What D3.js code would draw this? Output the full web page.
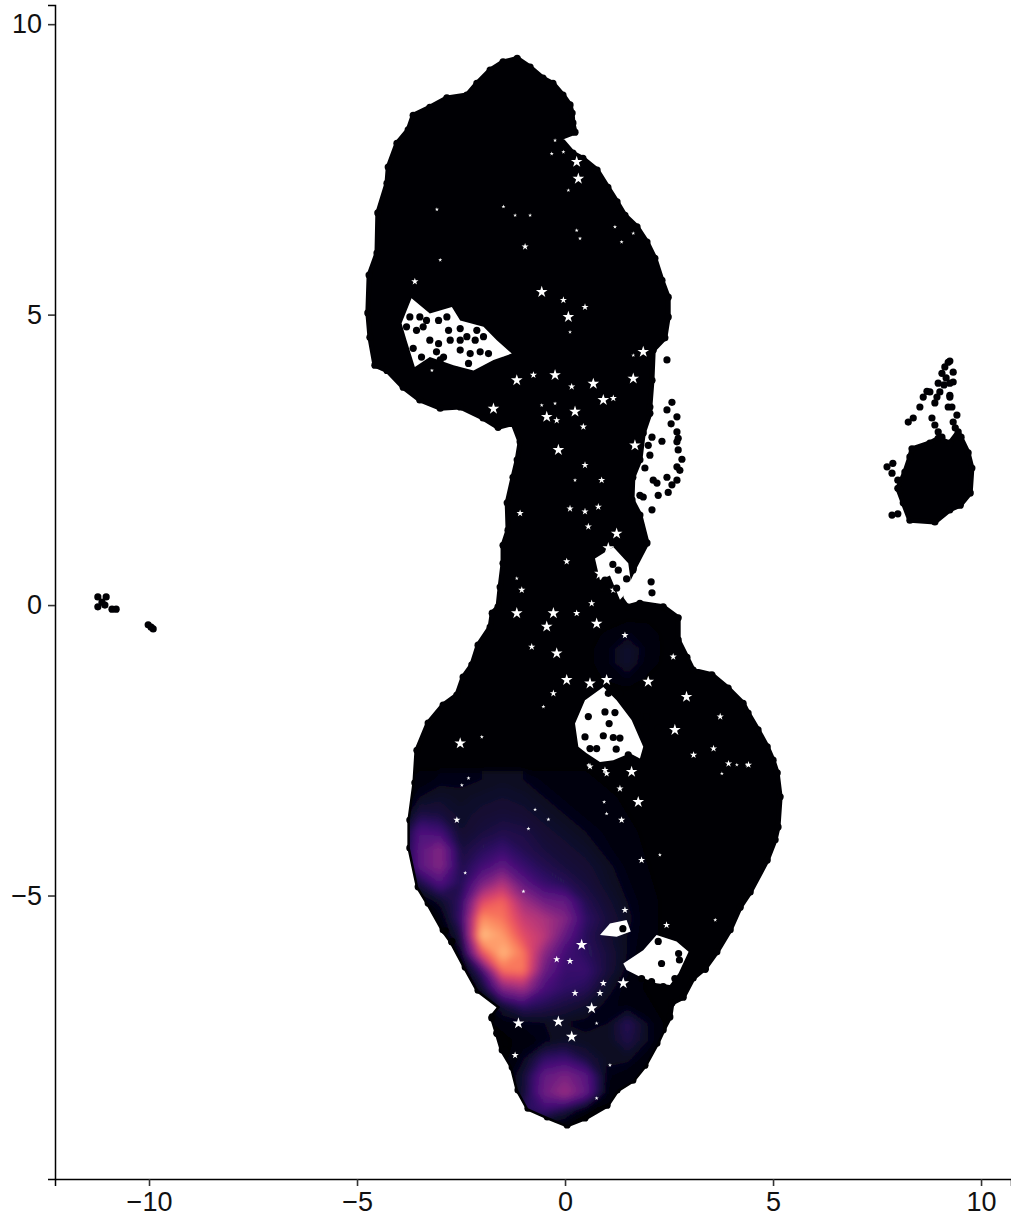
<!DOCTYPE html>
<html>
<head>
<meta charset="utf-8">
<script src="https://cdnjs.cloudflare.com/ajax/libs/d3/7.8.5/d3.min.js"></script>
<style>
  html, body { margin: 0; padding: 0; background: #fff; }
  svg { display: block; }
  .tick text { font-family: "Liberation Sans", Arial, sans-serif; font-size: 27px; fill: #111; }
</style>
</head>
<body>
<div id="chart"></div>
<script>
var xTicks = [-10, -5, 0, 5, 10];
var yTicks = [-5, 0, 5, 10];

// main cloud, edge
var mainEdge = [[-1.15,9.41],[-0.84,9.26],[-0.53,9.07],[-0.29,8.98],[-0.05,8.78],[0.12,8.61],[0.17,8.47],[0.19,8.30],[0.24,8.14],[-0.12,8.04],[0.19,7.78],[0.43,7.69],[0.77,7.49],[1.03,7.19],[1.25,6.94],[1.44,6.71],[1.73,6.51],[1.97,6.25],[2.16,5.97],[2.33,5.59],[2.48,5.30],[2.48,4.96],[2.40,4.60],[2.12,4.39],[2.09,3.87],[2.04,3.41],[2.04,3.30],[1.88,2.96],[1.80,2.50],[1.63,2.20],[1.61,1.81],[1.80,1.55],[1.97,1.07],[1.63,0.60],[1.32,0.14],[1.49,-0.03],[1.80,0.03],[2.36,-0.03],[2.72,-0.22],[2.72,-0.60],[2.93,-0.90],[3.08,-1.12],[3.53,-1.20],[3.92,-1.43],[4.28,-1.69],[4.40,-1.86],[4.64,-2.15],[4.86,-2.44],[5.00,-2.67],[5.10,-2.89],[5.17,-3.30],[5.12,-3.82],[5.05,-4.04],[4.86,-4.39],[4.45,-4.94],[4.21,-5.20],[3.97,-5.59],[3.65,-5.97],[3.37,-6.25],[3.08,-6.42],[2.84,-6.75],[2.57,-6.85],[2.52,-7.09],[2.36,-7.31],[2.21,-7.54],[1.92,-7.92],[1.63,-8.18],[1.25,-8.35],[1.01,-8.61],[0.48,-8.83],[0.05,-8.95],[-0.43,-8.81],[-0.89,-8.66],[-1.13,-8.35],[-1.27,-7.95],[-1.51,-7.66],[-1.63,-7.37],[-1.75,-7.09],[-1.56,-6.92],[-2.09,-6.63],[-2.40,-6.23],[-2.72,-5.80],[-2.93,-5.59],[-3.29,-5.13],[-3.53,-4.85],[-3.73,-4.18],[-3.73,-3.70],[-3.61,-3.06],[-3.56,-2.50],[-3.29,-2.03],[-2.93,-1.72],[-2.60,-1.55],[-2.45,-1.24],[-2.24,-1.03],[-2.09,-0.69],[-1.80,-0.38],[-1.75,-0.14],[-1.61,-0.03],[-1.56,0.31],[-1.49,0.72],[-1.49,1.03],[-1.37,1.29],[-1.39,1.76],[-1.25,2.20],[-1.15,2.50],[-1.08,2.81],[-1.25,3.13],[-1.61,3.06],[-1.97,3.22],[-2.52,3.41],[-3.00,3.39],[-3.49,3.53],[-3.89,3.75],[-4.28,4.04],[-4.57,4.13],[-4.69,4.61],[-4.74,5.03],[-4.71,5.68],[-4.52,6.06],[-4.50,6.75],[-4.28,7.26],[-4.25,7.54],[-4.04,7.95],[-3.77,8.18],[-3.65,8.43],[-3.25,8.57],[-2.84,8.73],[-2.36,8.78],[-2.12,8.98],[-1.80,9.21],[-1.49,9.35]];
var rightEdge = [[8.34,2.69],[8.77,2.79],[8.97,2.87],[9.25,2.79],[9.45,2.98],[9.69,2.62],[9.78,2.36],[9.74,1.93],[9.50,1.72],[9.25,1.64],[8.89,1.43],[8.29,1.46],[8.13,1.76],[8.00,2.01],[8.17,2.29],[8.29,2.55]];

// open areas inside the main cloud
var holes = [
  [[-3.69,5.28],[-3.25,5.02],[-2.72,5.13],[-2.52,4.90],[-1.96,4.79],[-1.64,4.56],[-1.28,4.33],[-1.72,4.22],[-2.20,4.04],[-2.68,4.13],[-3.25,4.27],[-3.61,4.10],[-3.81,4.56],[-3.93,4.85]],
  [[0.72,0.80],[1.16,1.00],[1.52,0.72],[1.60,0.31],[1.32,0.09],[1.08,0.51],[0.84,0.43]],
  [[0.48,-1.64],[0.92,-1.41],[1.24,-1.64],[1.60,-1.98],[1.88,-2.44],[1.80,-2.64],[1.56,-2.55],[1.16,-2.67],[0.84,-2.70],[0.52,-2.55],[0.32,-2.44],[0.24,-2.04]],
  [[1.40,-6.17],[1.88,-5.94],[2.20,-5.68],[2.68,-5.79],[2.97,-5.97],[2.73,-6.34],[2.52,-6.54],[2.20,-6.51],[1.80,-6.40],[1.48,-6.28]],
  [[0.84,-5.68],[1.08,-5.48],[1.48,-5.42],[1.58,-5.62],[1.24,-5.71]]
];

var bigGaps = [[-0.56,5.39],[0.08,4.96],[0.32,7.34],[0.28,7.63],[1.88,4.36],[-1.16,3.87],[-0.24,3.96],[0.68,3.81],[0.92,3.53],[1.64,3.90],[-1.72,3.38],[-0.44,3.24],[0.24,3.33],[-0.16,2.67],[1.68,2.75],[-1.16,-0.14],[-0.28,-0.14],[0.76,-0.32],[-0.44,-0.37],[-0.20,-0.83],[0.04,-1.29],[0.60,-1.35],[1.00,-1.29],[2.00,-1.32],[2.92,-1.58],[2.64,-2.15],[-2.52,-2.38],[1.24,1.23],[1.04,0.98],[0.84,0.54],[-0.16,-7.17],[0.16,-7.43],[0.64,-6.94],[1.40,-6.51],[0.40,-5.85],[-1.12,-7.20],[1.76,-3.39],[1.60,-2.87]];
var midGaps = [[-0.04,5.25],[0.48,5.13],[-0.96,6.17],[-3.61,5.57],[-1.52,4.33],[0.16,3.76],[-0.76,3.96],[1.16,3.56],[-0.20,3.18],[0.44,3.07],[0.48,2.41],[0.88,2.15],[0.12,1.66],[0.48,1.61],[0.80,1.69],[-1.08,1.58],[-1.04,0.26],[0.04,0.75],[0.28,-0.14],[0.64,0.03],[-0.80,-0.72],[-0.28,-1.52],[1.44,-0.52],[2.60,-0.89],[3.09,-2.58],[3.57,-2.47],[3.73,-1.92],[4.41,-2.75],[0.96,-2.84],[0.56,1.35],[1.16,0.26],[-1.20,-7.75],[0.84,-6.68],[0.24,-6.68],[0.92,-6.51],[-0.20,-6.10],[0.12,-6.13],[-2.60,-3.70],[1.84,-4.39],[1.36,-3.70],[1.32,-3.16],[1.00,-2.90],[0.60,-2.78],[3.93,-2.73],[2.44,-5.51],[1.44,-5.25]];
var smallGaps = [[-1.48,6.86],[-3.00,5.94],[-3.08,6.81],[0.08,7.14],[0.36,6.31],[1.36,6.25],[1.64,6.40],[1.20,6.51],[0.28,6.45],[-0.24,8.00],[-0.32,7.77],[-0.04,7.80],[-0.84,6.71],[-1.20,6.71],[0.12,4.70],[1.64,4.30],[-0.20,3.18],[-0.56,3.44],[-0.24,3.47],[-3.20,4.04],[1.64,2.75],[0.24,2.15],[-1.16,0.46],[4.13,-2.75],[0.56,-2.75],[-2.00,-2.27],[-0.52,-1.75],[0.76,-7.20],[1.08,-7.92],[0.76,-8.49],[-2.40,-4.61],[-2.48,-3.10],[-2.32,-2.98],[-0.72,-3.52],[-0.40,-3.69],[-0.88,-3.85],[-1.00,-4.93],[2.28,-4.30],[1.00,-3.59],[4.37,-2.75],[3.77,-2.90],[3.61,-5.42],[0.94,-3.39]];

// single points that stand clear of the solid parts
var strayPoints = [[-3.73,4.96],[-3.41,4.79],[-3.57,4.73],[-3.04,4.90],[-3.04,4.50],[-3.25,4.56],[-2.80,4.73],[-2.76,4.56],[-2.52,4.76],[-2.36,4.62],[-2.16,4.56],[-1.96,4.62],[-2.04,4.36],[-1.84,4.33],[-2.52,4.39],[-2.28,4.33],[-2.32,4.16],[-2.92,4.27],[-3.20,4.13],[-3.65,4.42],[-3.45,4.27],[-3.00,4.22],[-2.60,4.04],[-3.33,4.90],[-2.84,4.96],[-3.81,4.79],[-3.49,4.96],[-2.12,4.73],[-2.52,4.56],[-3.09,4.36],
  [1.15,0.70],[1.28,0.60],[1.48,0.45],[0.96,0.43],[1.24,0.29],[0.92,0.29],[1.64,0.63],
  [0.56,-1.92],[0.96,-1.84],[1.20,-1.85],[1.06,-2.04],[0.48,-2.27],[0.92,-2.25],[1.16,-2.28],[1.32,-2.29],[0.60,-2.47],[0.76,-2.47],[1.23,-2.48],[1.52,-2.58],[1.56,-1.72],[1.72,-1.87],[1.96,-1.92],[1.92,-2.12],[2.24,-2.12],[1.32,-1.52],[1.04,-1.52],
  [2.32,-6.17],[2.73,-6.00],[2.75,-6.11],[2.24,-5.79],[3.37,-6.27],[2.08,-6.48],[1.84,-6.43],[2.36,-6.57],[2.64,-6.43],[1.39,-5.57],
  [-1.76,-7.11],[-1.64,-7.37],[-2.88,-5.61],[-2.72,-5.79],[-1.44,-7.66],
  [2.57,3.49],[2.45,3.36],[2.69,3.24],[2.55,3.12],[2.69,2.98],[2.69,2.81],[2.72,2.67],[2.81,2.51],[2.69,2.38],[2.69,2.15],[2.57,2.07],[2.45,2.20],[2.48,1.94],[2.33,2.82],[2.09,2.89],[2.12,2.15],[1.92,2.36],[2.21,2.10],[2.24,1.89],[1.80,1.89],[1.88,1.86],[2.09,1.64],[2.07,0.40],[2.09,0.21],[2.45,4.22],[2.04,2.58],[2.00,2.75],[2.72,2.87],[2.76,2.32],
  [7.88,2.44],[7.74,2.38],[7.86,2.27],[8.00,2.15],[8.05,1.98],[7.86,1.55],[8.00,1.57],
  [9.25,4.20],[9.33,4.01],[9.33,3.84],[9.25,3.61],[9.21,3.41],[9.42,3.27],[9.33,3.15],[9.38,3.05],[9.52,2.89],[8.53,3.41],[8.25,3.15],[8.37,3.22],[8.61,3.58],[8.70,3.68],[8.89,3.48],[9.25,3.58],[9.25,3.82],[8.97,3.82],[9.06,3.99],[9.13,4.10],[9.21,4.18],[9.01,3.67],[8.94,3.58],[8.82,3.22],[8.89,3.10],[8.97,2.98],[9.06,2.89],[9.16,3.91],[9.11,3.79],[9.30,3.41],[8.77,3.67],
  [-11.23,0.14],[-11.03,0.14],[-11.13,0.05],[-11.23,-0.03],[-11.06,0],[-10.89,-0.07],[-10.79,-0.07],[-10.02,-0.34],[-9.90,-0.41],[-9.95,-0.38]];

var lowerX = [-4,-3.5,-3,-2.5,-2,-1.5,-1,-0.5,0,0.5,1,1.5,2,2.5];
var lowerY = [-3,-3.3,-3.6,-3.9,-4.2,-4.5,-4.8,-5.1,-5.4,-5.7,-6,-6.3,-6.6,-6.9,-7.2,-7.5,-7.8,-8.1,-8.4,-8.7,-9];
var lowerDensity = [
  [0,.03,.05,.05,.06,.07,.06,.04,.03,.02,.01,0,0,0],
  [0,.06,.08,.07,.08,.09,.08,.06,.04,.03,.02,.01,0,0],
  [0,.13,.12,.08,.10,.11,.10,.08,.06,.04,.03,.015,.01,0],
  [.03,.25,.22,.09,.12,.14,.13,.10,.08,.06,.04,.02,.01,0],
  [.03,.28,.38,.12,.16,.20,.15,.12,.10,.08,.05,.03,.01,0],
  [.02,.28,.38,.14,.22,.30,.20,.15,.12,.10,.07,.04,.015,0],
  [0,.12,.25,.15,.36,.50,.30,.20,.16,.12,.08,.05,.02,0],
  [0,.02,.08,.18,.60,.68,.45,.33,.30,.15,.10,.06,.03,0],
  [0,0,.02,.20,.78,.72,.55,.48,.38,.18,.12,.07,.03,0],
  [0,0,0,.12,.88,.80,.62,.52,.30,.16,.10,.06,.03,0],
  [0,0,0,.05,.62,.86,.72,.40,.22,.17,.12,.06,.02,0],
  [0,0,0,0,.20,.70,.72,.32,.20,.20,.12,.05,.01,0],
  [0,0,0,0,.08,.38,.45,.24,.18,.16,.08,.03,.01,0],
  [0,0,0,0,0,.10,.18,.15,.12,.09,.05,.04,.02,0],
  [0,0,0,0,0,.03,.05,.06,.06,.05,.06,.16,.06,0],
  [0,0,0,0,0,0,.03,.05,.08,.07,.06,.14,.06,0],
  [0,0,0,0,0,0,.06,.18,.20,.12,.07,.07,.03,0],
  [0,0,0,0,0,0,.10,.30,.36,.28,.05,.03,0,0],
  [0,0,0,0,0,0,.10,.33,.44,.30,.04,.02,0,0],
  [0,0,0,0,0,.02,.16,.20,.12,.02,0,0,0,0],
  [0,0,0,0,0,0,0,0,0,0,0,0,0,0]
];
var upperX = [0.5,1,1.5,2,2.5];
var upperY = [-0.25,-0.5,-0.75,-1,-1.25,-1.5];
var upperDensity = [
  [0,0,.01,.01,0],
  [0,.02,.05,.03,0],
  [0,.04,.09,.04,0],
  [0,.04,.09,.03,0],
  [0,.02,.05,.01,0],
  [0,0,0,0,0]
];

var width = 1011, height = 1217;
var x = d3.scaleLinear().domain([-12.26, 10.72]).range([55, 1011]);
var y = d3.scaleLinear().domain([-9.88, 10.33]).range([1179, 5]);

var svg = d3.select("#chart").append("svg").attr("width", width).attr("height", height);
var defs = svg.append("defs");
defs.append("filter").attr("id", "soft").attr("x", "-5%").attr("y", "-5%").attr("width", "110%").attr("height", "110%")
    .append("feGaussianBlur").attr("stdDeviation", 3);

var toPath = d3.line().x(function(d){ return x(d[0]); }).y(function(d){ return y(d[1]); }).curveLinearClosed ? null : null;
var outline = d3.line().x(function(d){ return x(d[0]); }).y(function(d){ return y(d[1]); }).curve(d3.curveLinearClosed);
var black = "#000004";

defs.append("clipPath").attr("id", "mainClip").append("path").attr("d", outline(mainEdge));

function drawDots(list){
    svg.append("g").selectAll("circle").data(list).enter().append("circle")
        .attr("cx", function(d){ return x(d[0]); })
        .attr("cy", function(d){ return y(d[1]); })
        .attr("r", 3.6)
        .attr("fill", black);
}

svg.append("path").attr("d", outline(mainEdge)).attr("fill", black).attr("stroke", black).attr("stroke-width", 5).attr("stroke-linejoin", "round");
svg.append("path").attr("d", outline(rightEdge)).attr("fill", black).attr("stroke", black).attr("stroke-width", 5).attr("stroke-linejoin", "round");
drawDots(mainEdge);
drawDots(rightEdge);

// density colours
var densityLayer = svg.append("g").attr("clip-path", "url(#mainClip)").append("g").attr("filter", "url(#soft)");
function drawDensity(xs, ys, rows){
    var flat = d3.merge(rows);
    var dx = xs[1] - xs[0], dy = ys[1] - ys[0];
    var path = d3.geoPath(d3.geoTransform({
        point: function(px, py){
            this.stream.point(x(xs[0] + (px - 0.5) * dx), y(ys[0] + (py - 0.5) * dy));
        }
    }));
    var levels = d3.range(0.015, 0.95, 0.015);
    var bands = d3.contours().size([xs.length, ys.length]).thresholds(levels)(flat);
    densityLayer.selectAll(null).data(bands).enter().append("path")
        .attr("d", path)
        .attr("fill", function(d){ return d3.interpolateMagma(d.value); });
}
drawDensity(upperX, upperY, upperDensity);
drawDensity(lowerX, lowerY, lowerDensity);

// white gaps between points
svg.append("g").selectAll("path").data(holes).enter().append("path")
    .attr("d", outline).attr("fill", "#fff");
function drawGaps(list, size){
    var star = d3.symbol().type(d3.symbolStar).size(size);
    svg.append("g").selectAll("path").data(list).enter().append("path")
        .attr("d", star)
        .attr("transform", function(d){ return "translate(" + x(d[0]) + "," + y(d[1]) + ")"; })
        .attr("fill", "#fff");
}
drawGaps(bigGaps, 42);
drawGaps(midGaps, 16);
drawGaps(smallGaps, 5);

drawDots(strayPoints);

// axes
var xAxis = svg.append("g").attr("transform", "translate(0,1179)")
    .call(d3.axisBottom(x).tickValues(xTicks).tickSize(7).tickPadding(6).tickFormat(d3.format("d")));
var yAxis = svg.append("g").attr("transform", "translate(55,0)")
    .call(d3.axisLeft(y).tickValues(yTicks).tickSize(7).tickPadding(6).tickFormat(d3.format("d")));
svg.selectAll(".domain").attr("stroke", "#000").attr("stroke-width", 1.5);
svg.selectAll(".tick line").attr("stroke", "#333").attr("stroke-width", 1.6);
</script>
</body>
</html>
